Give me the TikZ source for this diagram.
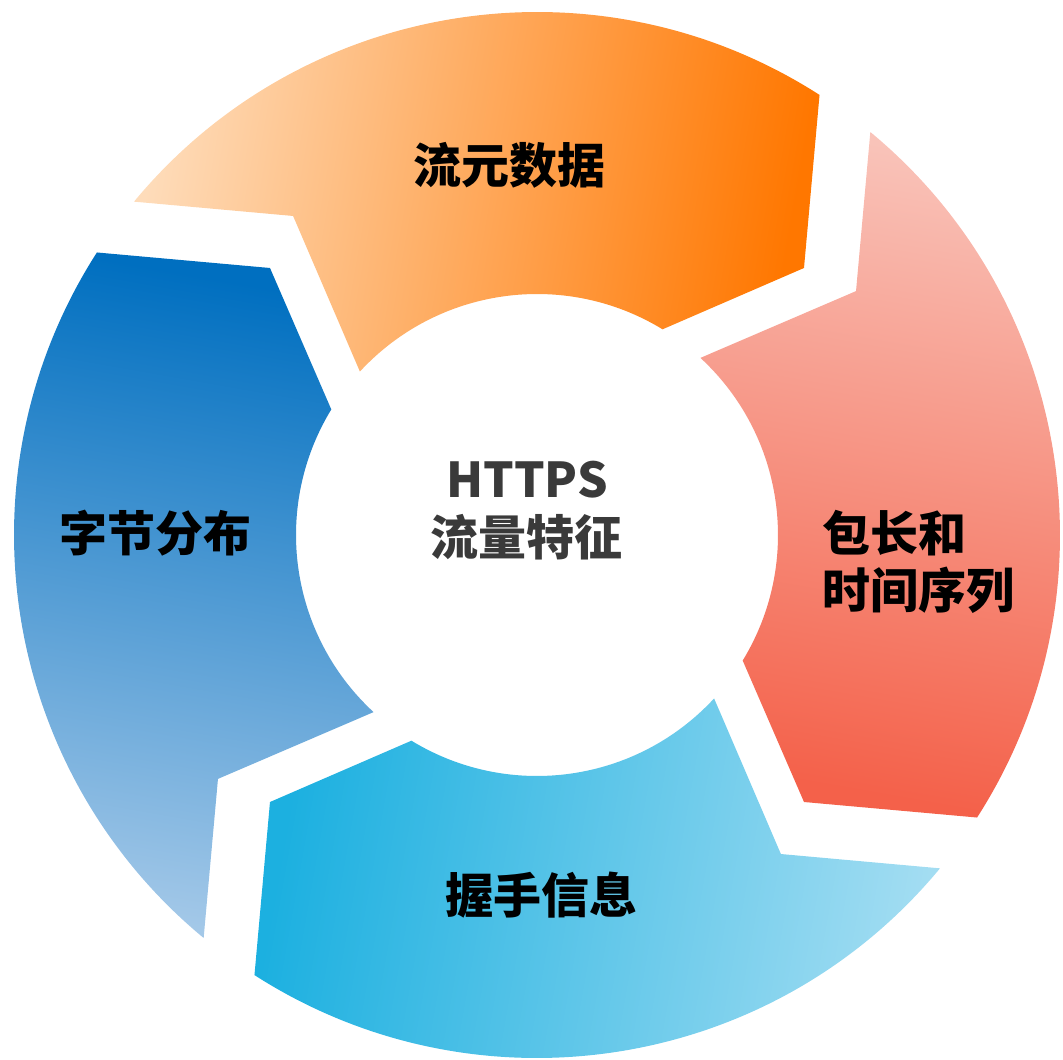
\documentclass[tikz,border=0pt]{standalone}
\usepackage{fontspec}
\newfontfamily\cjk{Noto Sans CJK SC}
\definecolor{orLight}{HTML}{FEDCBA}
\definecolor{orDark}{HTML}{FF7700}
\definecolor{rdLight}{HTML}{F9C3B9}
\definecolor{rdDark}{HTML}{F4614A}
\definecolor{cyLight}{HTML}{A3DDF2}
\definecolor{cyDark}{HTML}{1CB0E0}
\definecolor{blLight}{HTML}{A3C8E8}
\definecolor{blDark}{HTML}{006FC0}
\definecolor{midGray}{HTML}{3A3A3A}
\tikzset{
  seglabel/.style={font=\cjk\bfseries\fontsize{48pt}{57pt}\selectfont, text=black, inner sep=0pt},
  centerlabel/.style={font=\cjk\bfseries\fontsize{48pt}{58pt}\selectfont, text=midGray, align=center, inner sep=0pt}
}
\begin{document}
\begin{tikzpicture}[x=1pt,y=1pt]
\useasboundingbox (-537pt,-525pt) rectangle (526pt,535pt);
% top segment (orange)
\path[left color=orLight, right color=orDark, shading angle=80]
  (140.4:523pt) arc[start angle=140.4, end angle=57.3, radius=523pt]
  -- (45:377.6pt) -- (58.6:241pt) arc[start angle=58.6, end angle=137.3, radius=241pt]
  -- (127.4:401.6pt) -- cycle;
% right segment (red)
\path[left color=rdLight, right color=rdDark, shading angle=-10]
  (50.4:523pt) arc[start angle=50.4, end angle=-32.7, radius=523pt]
  -- (-45:377.6pt) -- (-31.4:241pt) arc[start angle=-31.4, end angle=47.3, radius=241pt]
  -- (37.4:401.6pt) -- cycle;
% bottom segment (cyan)
\path[left color=cyLight, right color=cyDark, shading angle=260]
  (-39.6:523pt) arc[start angle=-39.6, end angle=-122.7, radius=523pt]
  -- (-135:377.6pt) -- (-121.4:241pt) arc[start angle=-121.4, end angle=-42.7, radius=241pt]
  -- (-52.6:401.6pt) -- cycle;
% left segment (blue)
\path[left color=blLight, right color=blDark, shading angle=170]
  (230.4:523pt) arc[start angle=230.4, end angle=147.3, radius=523pt]
  -- (135:377.6pt) -- (148.6:241pt) arc[start angle=148.6, end angle=227.3, radius=241pt]
  -- (217.4:401.6pt) -- cycle;
% labels
\node[seglabel] (meta) at (-27pt,370pt) {流元数据};
\node[seglabel, align=left, anchor=west] (pkt) at (285pt,-26.5pt) {包长和\\时间序列};
\node[seglabel] (hand) at (5pt,-360pt) {握手信息};
\node[seglabel] (byte) at (-381pt,2pt) {字节分布};
\node[centerlabel] (center) at (-10pt,24pt) {HTTPS\\流量特征};
\end{tikzpicture}
\end{document}
